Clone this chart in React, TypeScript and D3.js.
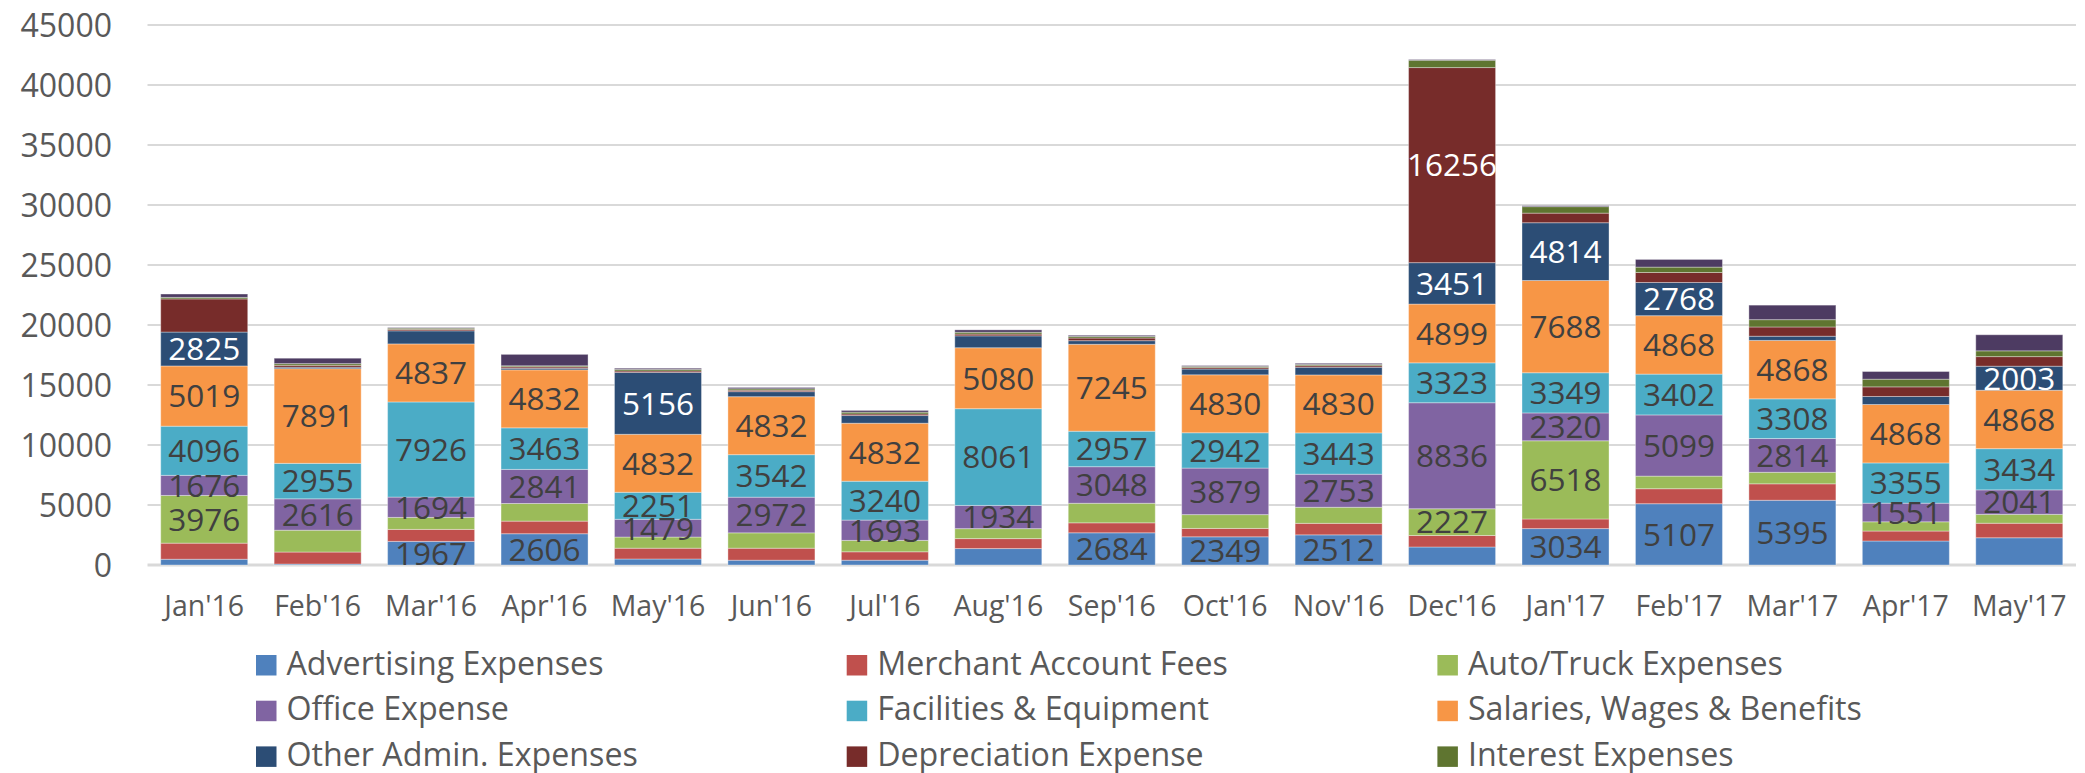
import React from 'react';
import { scaleBand, scaleLinear, stack } from 'd3';

const months = ["Jan'16", "Feb'16", "Mar'16", "Apr'16", "May'16", "Jun'16", "Jul'16", "Aug'16", "Sep'16",
  "Oct'16", "Nov'16", "Dec'16", "Jan'17", "Feb'17", "Mar'17", "Apr'17", "May'17"];

const advertising = [480, 80, 1967, 2606, 500, 400, 400, 1370, 2684, 2349, 2512, 1500, 3034, 5107, 5395, 2000, 2270];
const merchant = [1340, 1000, 1000, 1050, 900, 1000, 700, 830, 830, 700, 960, 960, 800, 1250, 1370, 830, 1210];
const autoTruck = [3976, 1820, 1000, 1470, 930, 1280, 950, 830, 1630, 1150, 1340, 2227, 6518, 1050, 960, 770, 740];
const office = [1676, 2616, 1694, 2841, 1479, 2972, 1693, 1934, 3048, 3879, 2753, 8836, 2320, 5099, 2814, 1551, 2041];
const facilities = [4096, 2955, 7926, 3463, 2251, 3542, 3240, 8061, 2957, 2942, 3443, 3323, 3349, 3402, 3308, 3355, 3434];
const salaries = [5019, 7891, 4837, 4832, 4832, 4832, 4832, 5080, 7245, 4830, 4830, 4899, 7688, 4868, 4868, 4868, 4868];
const otherAdmin = [2825, 120, 1090, 130, 5156, 420, 640, 990, 300, 480, 640, 3451, 4814, 2768, 350, 670, 2003];
const depreciation = [2760, 160, 120, 120, 120, 120, 130, 150, 220, 120, 130, 16256, 800, 830, 770, 800, 800];
const interest = [130, 140, 100, 90, 130, 120, 150, 150, 130, 100, 100, 610, 540, 450, 610, 640, 480];
const otherExpenses = [280, 450, 50, 950, 100, 110, 145, 200, 100, 70, 100, 60, 80, 640, 1210, 640, 1340];

// months whose segment carries a data label in the original
const allMonths = months;
const advLabelled = ["Mar'16", "Apr'16", "Sep'16", "Oct'16", "Nov'16", "Jan'17", "Feb'17", "Mar'17"];
const autoLabelled = ["Jan'16", "Dec'16", "Jan'17"];
const adminLabelled = ["Jan'16", "May'16", "Dec'16", "Jan'17", "Feb'17", "May'17"];
const depLabelled = ["Dec'16"];

const yTicks = [0, 5000, 10000, 15000, 20000, 25000, 30000, 35000, 40000, 45000];

const series = [
  { name: 'Advertising Expenses', values: advertising, color: '#4F81BD', labels: advLabelled, text: '#404040' },
  { name: 'Merchant Account Fees', values: merchant, color: '#C0504D', labels: [], text: '#404040' },
  { name: 'Auto/Truck Expenses', values: autoTruck, color: '#9BBB59', labels: autoLabelled, text: '#404040' },
  { name: 'Office Expense', values: office, color: '#8064A2', labels: allMonths, text: '#404040' },
  { name: 'Facilities & Equipment', values: facilities, color: '#4BACC6', labels: allMonths, text: '#404040' },
  { name: 'Salaries, Wages & Benefits', values: salaries, color: '#F79646', labels: allMonths, text: '#404040' },
  { name: 'Other Admin. Expenses', values: otherAdmin, color: '#2C4D75', labels: adminLabelled, text: '#ffffff' },
  { name: 'Depreciation Expense', values: depreciation, color: '#772C2A', labels: depLabelled, text: '#ffffff' },
  { name: 'Interest Expenses', values: interest, color: '#5F7530', labels: [], text: '#404040' },
  { name: 'Other Expenses', values: otherExpenses, color: '#4D3B62', labels: [], text: '#ffffff' },
];

const W = 2085;
const H = 773;
const FONT = "'Open Sans', sans-serif";

export default function App() {
  const x = scaleBand<string>().domain(months).range([147.5, 2076]).paddingInner(0.233).paddingOuter(0.1165);
  const y = scaleLinear().domain([0, 45000]).range([565, 25]);

  const rows = months.map((m, i) => {
    const r: Record<string, number | string> = { month: m };
    series.forEach((s) => { r[s.name] = s.values[i]; });
    return r;
  });
  const stacked = stack<any>().keys(series.map((s) => s.name))(rows);

  return (
    <svg width={W} height={H} style={{ position: 'absolute', left: 0, top: 0, background: '#fff' }}
      fontFamily={FONT}>
      {yTicks.map((t) => (
        <g key={t}>
          <line x1={147.5} x2={2076} y1={y(t)} y2={y(t)} stroke="#D9D9D9" strokeWidth={t === 0 ? 3 : 2} />
          <text x={112} y={y(t)} dy="0.36em" textAnchor="end" fontSize={32} fill="#595959">{t}</text>
        </g>
      ))}
      {stacked.map((layer, si) => (
        <g key={layer.key} fill={series[si].color}>
          {layer.map((d, i) => (
            <rect key={i} x={x(months[i])} width={x.bandwidth()} y={y(d[1])} height={y(d[0]) - y(d[1])}
              stroke="#ffffff" strokeOpacity={0.35} strokeWidth={1} />
          ))}
        </g>
      ))}
      {stacked.map((layer, si) => (
        <g key={layer.key + '-lbl'} fill={series[si].text} fontSize={31.5} textAnchor="middle">
          {layer.map((d, i) => series[si].labels.includes(months[i]) ? (
            <text key={i} x={(x(months[i]) as number) + x.bandwidth() / 2} y={y((d[0] + d[1]) / 2)} dy="0.36em">
              {series[si].values[i]}
            </text>
          ) : null)}
        </g>
      ))}
      {months.map((m) => (
        <text key={m} x={(x(m) as number) + x.bandwidth() / 2} y={616} textAnchor="middle" fontSize={28.5}
          fill="#595959">{m}</text>
      ))}
      {series.map((s, i) => {
        const col = i % 3;
        const row = Math.floor(i / 3);
        const lx = 256 + col * 590.7;
        const ly = 655 + row * 45.7;
        return (
          <g key={s.name}>
            <rect x={lx} y={ly} width={20.5} height={20.5} fill={s.color} />
            <text x={lx + 30.5} y={ly + 19.5} fontSize={32.2} fill="#595959">{s.name}</text>
          </g>
        );
      })}
    </svg>
  );
}
